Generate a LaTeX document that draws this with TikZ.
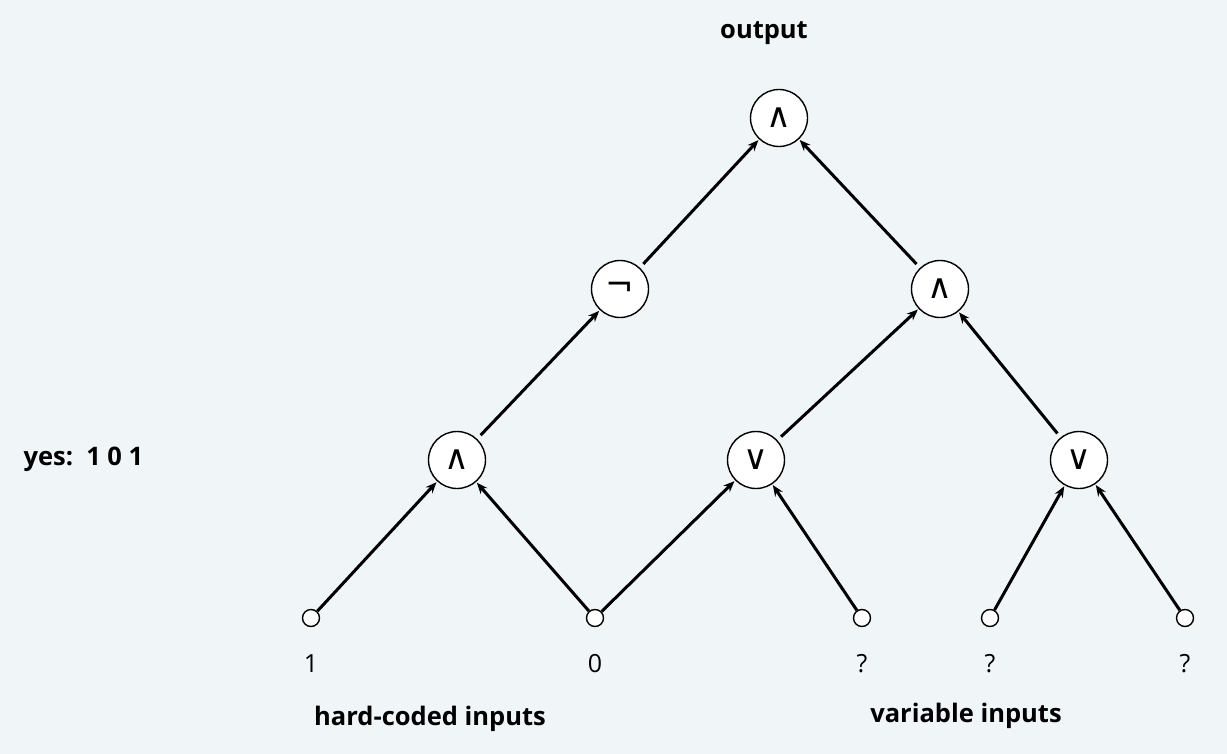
\documentclass[tikz,border=0pt]{standalone}
\usepackage{fontspec}
\setmainfont{Open Sans}
\newfontfamily\symfont{DejaVu Sans}
\usetikzlibrary{arrows.meta}
\definecolor{bg}{HTML}{F0F5F8}
\begin{document}
\begin{tikzpicture}[x=1pt,y=-1pt,
  gate/.style={circle,draw=black,line width=1.4pt,fill=white,minimum size=57pt,inner sep=0pt,font=\symfont\fontsize{34}{34}\selectfont},
  inp/.style={circle,draw=black,line width=1.4pt,fill=white,minimum size=17pt,inner sep=0pt},
  wire/.style={line width=3pt,-{Stealth[length=11pt,width=9pt]},shorten >=1pt},
  lbl/.style={font=\fontsize{25}{30}\selectfont,anchor=center},
  ttl/.style={font=\bfseries\fontsize{25.5}{30}\selectfont,anchor=center}]
\fill[bg] (0,0) rectangle (1227,754);
\useasboundingbox (0,0) rectangle (1227,754);
% gates
\node[gate] (top) at (779,118) {∧};
\node[gate] (neg) at (620,289) {¬};
\node[gate] (andR) at (940,289) {∧};
\node[gate] (andL) at (457,460) {∧};
\node[gate] (orM) at (756,460) {∨};
\node[gate] (orR) at (1079,460) {∨};
% inputs
\node[inp] (i1) at (311,618) {};
\node[inp] (i2) at (595,618) {};
\node[inp] (i3) at (862,618) {};
\node[inp] (i4) at (990,618) {};
\node[inp] (i5) at (1185,618) {};
% wires
\draw[wire] (i1) -- (andL);
\draw[wire] (i2) -- (andL);
\draw[wire] (i2) -- (orM);
\draw[wire] (i3) -- (orM);
\draw[wire] (i4) -- (orR);
\draw[wire] (i5) -- (orR);
\draw[wire,shorten <=5pt] (andL) -- (neg);
\draw[wire,shorten <=5pt] (orM) -- (andR);
\draw[wire,shorten <=5pt] (orR) -- (andR);
\draw[wire,shorten <=5pt] (neg) -- (top);
\draw[wire,shorten <=5pt] (andR) -- (top);
% input labels
\node[lbl] (l1) at (311,664) {1};
\node[lbl] (l2) at (595,664) {0};
\node[lbl] (l3) at (862,664) {?};
\node[lbl] (l4) at (990,664) {?};
\node[lbl] (l5) at (1185,664) {?};
% titles
\node[ttl] (out) at (764,33) {output};
\node[ttl] (hc) at (430,719) {hard-coded inputs};
\node[ttl] (vi) at (966,716) {variable inputs};
\node[ttl,anchor=west] (yes) at (20,459) {yes:\ \ 1 0 1};
\end{tikzpicture}
\end{document}
